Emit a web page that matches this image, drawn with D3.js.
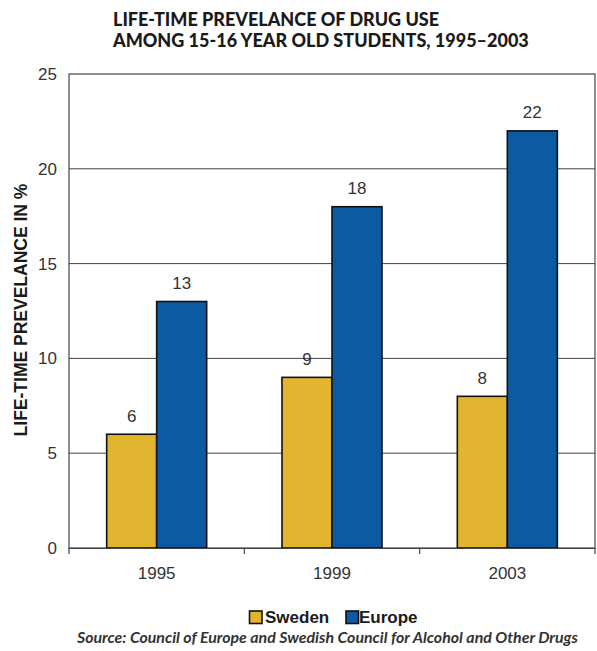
<!DOCTYPE html>
<html><head><meta charset="utf-8">
<script src="https://cdn.jsdelivr.net/npm/d3@7"></script>
<style>
html,body{margin:0;padding:0;background:#fff;}
svg{display:block;}
</style></head>
<body>
<script>
const years = ["1995", "1999", "2003"];
const series = ["Sweden", "Europe"];
const sweden = [6, 9, 8];
const europe = [13, 18, 22];
const yTicks = [0, 5, 10, 15, 20, 25];
const colors = ["#E2B530", "#0C5AA2"];
const titleLines = ["LIFE-TIME PREVELANCE OF DRUG USE", "AMONG 15-16 YEAR OLD STUDENTS, 1995\u20132003"];
const yTitle = "LIFE-TIME PREVELANCE IN %";
const source = "Source: Council of Europe and Swedish Council for Alcohol and Other Drugs";

(function () {
const W = 597, H = 651;
const svg = d3.select("body").append("svg").attr("width", W).attr("height", H);

const pL = 69, pR = 595, pT = 74, pB = 548;
const x = d3.scaleBand().domain(years).range([pL, pR]);
const xs = d3.scaleBand().domain(series).range([0, 100]);
const y = d3.scaleLinear().domain([0, 25]).range([pB, pT]);
const sans = "Liberation Sans, Arial, sans-serif";

// title
svg.append("g").selectAll("text").data(titleLines).join("text")
  .attr("x", 113).attr("y", (d, i) => 26 + i * 21)
  .attr("font-family", "Lato").attr("font-weight", "900").attr("font-size", 18)
  .attr("fill", "#1a1a1a").text(d => d);

// gridlines
svg.append("g").selectAll("line").data(yTicks.filter(t => t > 0 && t < 25)).join("line")
  .attr("x1", pL).attr("x2", pR).attr("y1", d => y(d)).attr("y2", d => y(d))
  .attr("stroke", "#444").attr("stroke-width", 1);

// frame
svg.append("rect").attr("x", pL).attr("y", pT).attr("width", pR - pL).attr("height", pB - pT)
  .attr("fill", "none").attr("stroke", "#444").attr("stroke-width", 1.2);

// bars
const data = years.map((yr, i) => ({ year: yr, vals: [sweden[i], europe[i]] }));
const groups = svg.append("g").selectAll("g").data(data).join("g")
  .attr("transform", d => `translate(${x(d.year) + x.bandwidth() / 2 - 50},0)`);
groups.selectAll("rect").data(d => d.vals.map((v, j) => ({ s: series[j], v, j }))).join("rect")
  .attr("x", d => xs(d.s)).attr("width", xs.bandwidth())
  .attr("y", d => y(d.v)).attr("height", d => y(0) - y(d.v))
  .attr("fill", d => colors[d.j]).attr("stroke", "#111").attr("stroke-width", 1.6);
groups.selectAll("text").data(d => d.vals.map((v, j) => ({ s: series[j], v, j }))).join("text")
  .attr("x", d => xs(d.s) + xs.bandwidth() / 2).attr("y", d => y(d.v) - 12.5)
  .attr("text-anchor", "middle").attr("font-family", sans).attr("font-size", 17)
  .attr("fill", "#333").text(d => d.v);

// y axis
const yAxis = svg.append("g").attr("transform", `translate(${pL},0)`)
  .call(d3.axisLeft(y).tickValues(yTicks).tickSize(0).tickPadding(12));
yAxis.select(".domain").remove();
yAxis.selectAll("text").attr("font-family", sans).attr("font-size", 17).attr("fill", "#333");

// x axis
const xAxis = svg.append("g").attr("transform", `translate(0,${pB})`)
  .call(d3.axisBottom(x).tickSize(0).tickPadding(19));
xAxis.select(".domain").attr("stroke", "#444");
xAxis.selectAll("text").attr("font-family", sans).attr("font-size", 17).attr("fill", "#333");
const bounds = years.map(yr => x(yr)).concat([pR]);
svg.append("g").selectAll("line").data(bounds).join("line")
  .attr("x1", d => d).attr("x2", d => d).attr("y1", pB).attr("y2", pB + 6)
  .attr("stroke", "#444").attr("stroke-width", 1.2);

// y title
svg.append("text").attr("transform", "translate(26.5,310) rotate(-90)")
  .attr("text-anchor", "middle").attr("font-family", sans).attr("font-weight", "bold")
  .attr("font-size", 17.5).attr("fill", "#1a1a1a").text(yTitle);

// legend
const legX = [249.5, 346];
const legTextX = [265, 359];
const leg = svg.append("g").selectAll("g").data(series).join("g");
leg.append("rect").attr("x", (d, i) => legX[i]).attr("y", 611).attr("width", 12.5).attr("height", 12.5)
  .attr("fill", (d, i) => colors[i]).attr("stroke", "#111").attr("stroke-width", 1.6);
leg.append("text").attr("x", (d, i) => legTextX[i]).attr("y", 622.7)
  .attr("font-family", sans).attr("font-weight", "bold").attr("font-size", 17)
  .attr("fill", "#1a1a1a").text(d => d);

// source
svg.append("text").attr("x", 327.5).attr("y", 643).attr("text-anchor", "middle")
  .attr("font-family", "Lato").attr("font-style", "italic").attr("font-weight", "bold").attr("font-size", 15.9)
  .attr("fill", "#333").text(source);
})();
</script>
</body></html>
